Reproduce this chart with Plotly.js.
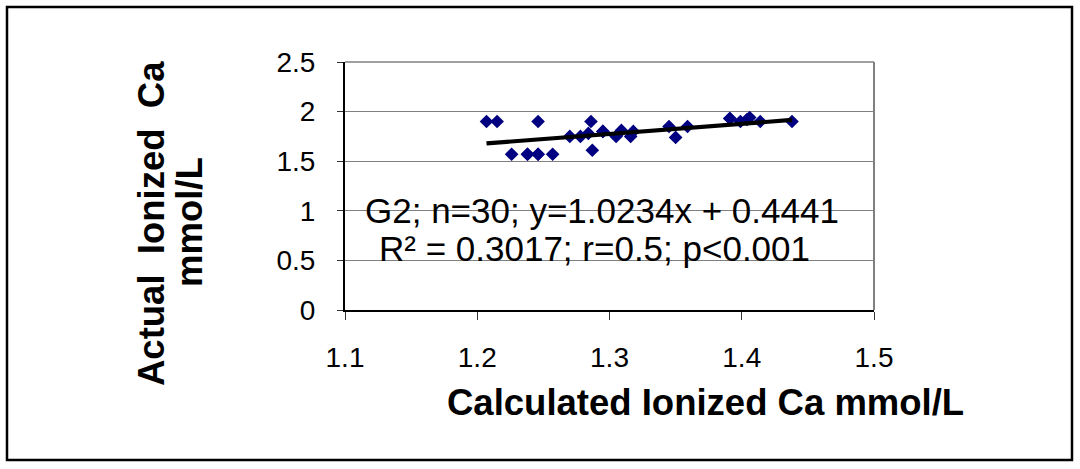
<!DOCTYPE html>
<html>
<head>
<meta charset="utf-8">
<script src="https://cdn.plot.ly/plotly-3.0.1.min.js"></script>
<style>
  html, body { margin: 0; padding: 0; background: #fff; }
</style>
</head>
<body>
<div id="chart"></div>
<script>
// ---- data ----
const calculatedCa = [1.207, 1.215, 1.246, 1.226, 1.238, 1.246, 1.257, 1.270, 1.278, 1.286,
                      1.287, 1.284, 1.295, 1.305, 1.309, 1.316, 1.318, 1.345, 1.350, 1.359,
                      1.391, 1.399, 1.404, 1.406, 1.414, 1.438, 1.246, 1.238, 1.295, 1.391];
const actualCa     = [1.90, 1.90, 1.90, 1.57, 1.57, 1.57, 1.57, 1.75, 1.75, 1.90,
                      1.61, 1.78, 1.80, 1.75, 1.81, 1.75, 1.80, 1.85, 1.74, 1.85,
                      1.93, 1.90, 1.92, 1.94, 1.90, 1.90, 1.57, 1.57, 1.80, 1.93];
const slope = 1.0234;
const intercept = 0.4441;
const xTicks = [1.1, 1.2, 1.3, 1.4, 1.5];
const yTicks = [0, 0.5, 1, 1.5, 2, 2.5];
const statLine1 = "G2; n=30; y=1.0234x + 0.4441";
const statLine2 = "R\u00B2 = 0.3017; r=0.5; p<0.001";
const xTitle = "Calculated Ionized Ca mmol/L";
const yTitleLine1 = "Actual\u00A0\u00A0Ionized\u00A0\u00A0Ca";
const yTitleLine2 = "mmol/L";

// ---- layout geometry ----
const W = 1080, H = 469;
const M = {l: 345, r: W - 874, t: 62, b: H - 310};
const PW = W - M.l - M.r, PH = H - M.t - M.b;
const px = v => (v - M.l) / PW;       // pixel -> paper x
const py = v => (H - M.b - v) / PH;   // pixel -> paper y
const FONT = "Liberation Sans, Arial, sans-serif";

const xMin = Math.min(...calculatedCa), xMax = Math.max(...calculatedCa);
const trendX = [xMin, xMax];
const trendY = trendX.map(x => slope * x + intercept);

const traces = [
  {
    x: calculatedCa, y: actualCa, type: 'scatter', mode: 'markers',
    marker: {symbol: 'diamond', size: 10.5, color: '#000080', line: {width: 0}},
    hoverinfo: 'x+y', showlegend: false
  },
  {
    x: trendX, y: trendY, type: 'scatter', mode: 'lines',
    line: {color: '#000000', width: 4.2}, hoverinfo: 'skip', showlegend: false
  }
];

const layout = {
  width: W, height: H,
  margin: M,
  paper_bgcolor: '#ffffff', plot_bgcolor: '#ffffff',
  font: {family: FONT, color: '#000000', size: 28},
  showlegend: false,
  xaxis: {
    range: [1.1, 1.5], tickvals: xTicks, ticktext: xTicks.map(v => v.toFixed(1)),
    ticks: 'outside', ticklen: 8, tickwidth: 1, tickcolor: '#333333',
    showline: true, linecolor: '#000000', linewidth: 2,
    showgrid: false, zeroline: false, fixedrange: true,
    tickfont: {family: FONT, size: 28, color: '#000000'},
    ticklabelstandoff: 13
  },
  yaxis: {
    range: [0, 2.5], tickvals: yTicks, ticktext: yTicks.map(v => String(v)),
    ticks: 'outside', ticklen: 6, tickwidth: 1, tickcolor: '#333333',
    showline: true, linecolor: '#000000', linewidth: 2,
    showgrid: true, gridcolor: '#808080', gridwidth: 1,
    zeroline: false, fixedrange: true,
    tickfont: {family: FONT, size: 28, color: '#000000'},
    ticklabelstandoff: 16
  },
  shapes: [
    {type: 'line', xref: 'paper', yref: 'paper', x0: 1, x1: 1, y0: 0, y1: 1,
     line: {color: '#808080', width: 2}},
    {type: 'line', xref: 'paper', yref: 'paper', x0: 0, x1: 1, y0: 1, y1: 1,
     line: {color: '#808080', width: 1.5}},
    {type: 'rect', xref: 'paper', yref: 'paper',
     x0: px(7), x1: px(1072), y0: py(460), y1: py(7),
     line: {color: '#000000', width: 2.5}, fillcolor: 'rgba(0,0,0,0)'}
  ],
  annotations: [
    {text: statLine1, xref: 'x', yref: 'y', x: 1.294, y: 1.0, showarrow: false,
     xanchor: 'center', yanchor: 'middle', font: {family: FONT, size: 35, color: '#000000'}},
    {text: statLine2, xref: 'x', yref: 'y', x: 1.289, y: 0.615, showarrow: false,
     xanchor: 'center', yanchor: 'middle', font: {family: FONT, size: 35, color: '#000000'}},
    {text: '<b>' + xTitle + '</b>', xref: 'paper', yref: 'paper',
     x: px(705), y: py(402), showarrow: false, xanchor: 'center', yanchor: 'middle',
     font: {family: FONT, size: 36.5, color: '#000000'}},
    {text: '<b>' + yTitleLine1 + '</b>', xref: 'paper', yref: 'paper',
     x: px(151), y: py(224), showarrow: false, xanchor: 'center', yanchor: 'middle',
     textangle: -90, font: {family: FONT, size: 36.5, color: '#000000'}},
    {text: '<b>' + yTitleLine2 + '</b>', xref: 'paper', yref: 'paper',
     x: px(189), y: py(222), showarrow: false, xanchor: 'center', yanchor: 'middle',
     textangle: -90, font: {family: FONT, size: 36.5, color: '#000000'}}
  ]
};

Plotly.newPlot('chart', traces, layout, {displayModeBar: false, staticPlot: true});
</script>
</body>
</html>
